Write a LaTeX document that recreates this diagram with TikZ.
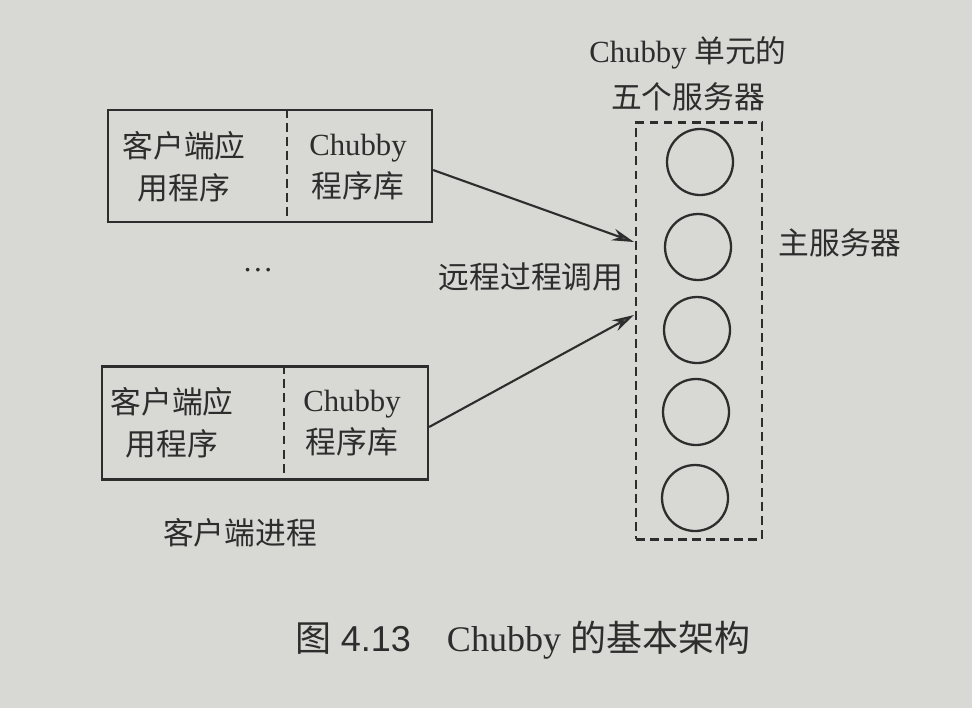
\documentclass[tikz,border=0pt]{standalone}
\usepackage{fontspec}
\setmainfont{Liberation Serif}
\newfontfamily\cjk{Noto Sans CJK SC}
\newfontfamily\numfont{Liberation Sans}
\usetikzlibrary{arrows.meta}
\definecolor{paper}{RGB}{216,216,213}
\definecolor{ink}{RGB}{45,45,45}
\begin{document}
\begin{tikzpicture}[x=0.02cm,y=-0.02cm,
  every node/.style={text=ink},
  txt/.style={font=\fontsize{17.5}{24}\selectfont, align=center, inner sep=0pt},
  captxt/.style={font=\fontsize{20.5}{26}\selectfont, align=center, inner sep=0pt},
  clientbox/.style={draw=ink, line width=1.3pt, rectangle, inner sep=0pt},
  divider/.style={draw=ink, line width=1.3pt, dash pattern=on 5pt off 3pt},
  cellbox/.style={draw=ink, line width=1.3pt, dash pattern=on 5pt off 3pt, rectangle, inner sep=0pt},
  server/.style={draw=ink, line width=1.3pt, circle, minimum size=1.32cm, inner sep=0pt},
  rpc/.style={draw=ink, line width=1.2pt, -{Stealth[length=0.44cm,width=0.24cm,fill=ink!80]}}]
\useasboundingbox[fill=paper] (0,0) rectangle (972,708);
% client boxes
\node[clientbox, minimum width=6.48cm, minimum height=2.24cm] (top) at (270,166) {};
\node[clientbox, minimum width=6.52cm, minimum height=2.26cm] (bot) at (265,423) {};
\draw[divider] ([xshift=3.6cm]top.north west) -- ([xshift=3.6cm]top.south west);
\draw[divider] ([xshift=3.66cm]bot.north west) -- ([xshift=3.66cm]bot.south west);
\node[txt] (topapp) at (184,167) {\cjk 客户端应\\\cjk 用程序};
\node[txt] (toplib) at (358,167) {Chubby\\\cjk 程序库};
\node[txt] (botapp) at (172,423) {\cjk 客户端应\\\cjk 用程序};
\node[txt] (botlib) at (352,423) {Chubby\\\cjk 程序库};
\node[txt] (dots) at (258,270) {…};
\node[txt] (proc) at (240,533) {\cjk 客户端进程};
% chubby cell
\node[cellbox, minimum width=2.52cm, minimum height=8.34cm] (cell) at (699,331) {};
\node[server] (s1) at (700,162) {};
\node[server] (s2) at (698,247) {};
\node[server] (s3) at (697,330) {};
\node[server] (s4) at (696,412) {};
\node[server] (s5) at (695,498) {};
\node[txt] (celltitle) at (688,74) {Chubby {\cjk 单元的}\\[2pt]{\cjk 五个服务器}};
\node[txt] (master) at (840,243) {\cjk 主服务器};
\node[txt] (rpclabel) at (531,277) {\cjk 远程过程调用};
% rpc arrows
\coordinate (t1) at (634,242);
\coordinate (t2) at (634,315);
\draw[rpc] (top.east |- 0,170) -- (t1);
\draw[rpc] (bot.east |- 0,427) -- (t2);
% caption
\node[captxt] (caption) at (523,640) {{\cjk 图} {\numfont 4.13}\quad Chubby {\cjk 的基本架构}};
\end{tikzpicture}
\end{document}
